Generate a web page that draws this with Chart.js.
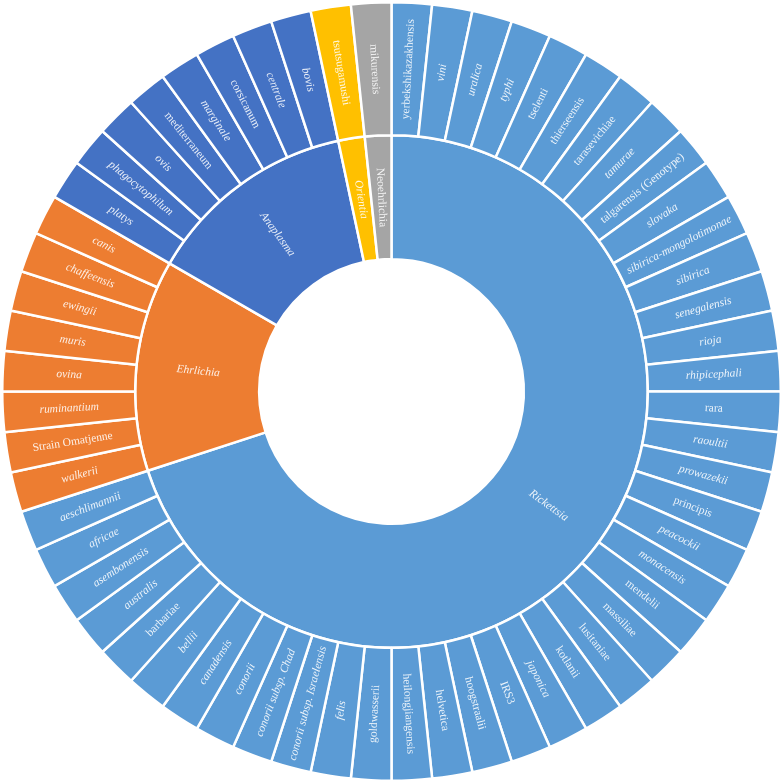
<!DOCTYPE html>
<html>
<head>
<meta charset="utf-8">
<script src="https://cdn.jsdelivr.net/npm/chart.js@4"></script>
<style>
  html, body { margin: 0; padding: 0; background: #ffffff; }
  #wrap { width: 783px; height: 783px; }
</style>
</head>
<body>
<div id="wrap"><canvas id="sunburst-chart"></canvas></div>
<script>
// inner ring
const genera = ['Rickettsia', 'Ehrlichia', 'Anaplasma', 'Orientia', 'Neoehrlichia'];
const genusValues = [42, 8, 8, 1, 1];

// outer ring, one value per species
const rickettsia = ['yerbekshikazakhensis', 'vini', 'uralica', 'typhi', 'tselenti', 'thierseensis',
  'tarasevichiae', 'tamurae', 'talgarensis (Genotype)', 'slovaka', 'sibirica-mongolotimonae',
  'sibirica', 'senegalensis', 'rioja', 'rhipicephali', 'rara', 'raoultii', 'prowazekii',
  'principis', 'peacockii', 'monacensis', 'mendelii', 'massiliae', 'lusitaniae', 'kotlanii',
  'japonica', 'IRS3', 'hoogstraalii', 'helvetica', 'heilongjiangensis', 'goldwasserii', 'felis',
  'conorii subsp. Israelensis', 'conorii subsp. Chad', 'conorii', 'canadensis', 'bellii',
  'barbariae', 'australis', 'asembonensis', 'africae', 'aeschlimannii'];
const ehrlichia = ['walkerii', 'Strain Omatjenne', 'ruminantium', 'ovina', 'muris', 'ewingii',
  'chaffeensis', 'canis'];
const anaplasma = ['platys', 'phagocytophilum', 'ovis', 'mediterraneum', 'marginale',
  'corsicanum', 'centrale', 'bovis'];
const orientia = ['tsutsugamushi'];
const neoehrlichia = ['mikurensis'];

const rickettsiaValues = [1, 1, 1, 1, 1, 1, 1, 1, 1, 1, 1, 1, 1, 1, 1, 1, 1, 1, 1, 1, 1,
  1, 1, 1, 1, 1, 1, 1, 1, 1, 1, 1, 1, 1, 1, 1, 1, 1, 1, 1, 1, 1];
const ehrlichiaValues = [1, 1, 1, 1, 1, 1, 1, 1];
const anaplasmaValues = [1, 1, 1, 1, 1, 1, 1, 1];
const orientiaValues = [1];
const neoehrlichiaValues = [1];

const genusColors = ['#5B9BD5', '#ED7D31', '#4472C4', '#FFC000', '#A5A5A5'];

// labels that are printed upright in the original, the rest are italic
const uprightLabels = ['yerbekshikazakhensis', 'tselenti', 'thierseensis', 'tarasevichiae',
  'talgarensis (Genotype)', 'rara', 'principis', 'mendelii', 'kotlanii', 'IRS3',
  'hoogstraalii', 'helvetica', 'heilongjiangensis', 'goldwasserii', 'barbariae',
  'Strain Omatjenne', 'mediterraneum', 'corsicanum', 'tsutsugamushi', 'mikurensis',
  'Neoehrlichia', 'lusitaniae', 'massiliae'];

const speciesGroups = [rickettsia, ehrlichia, anaplasma, orientia, neoehrlichia];
const speciesValueGroups = [rickettsiaValues, ehrlichiaValues, anaplasmaValues, orientiaValues, neoehrlichiaValues];

const species = [].concat(...speciesGroups);
const speciesValues = [].concat(...speciesValueGroups);
const speciesColors = [];
speciesGroups.forEach((group, i) => {
  group.forEach(() => speciesColors.push(genusColors[i]));
});

// writes each name along the radius of its slice
const radialLabels = {
  id: 'radialLabels',
  afterDatasetsDraw(chart) {
    const ctx = chart.ctx;
    chart.data.datasets.forEach((dataset, d) => {
      const meta = chart.getDatasetMeta(d);
      meta.data.forEach((arc, i) => {
        const p = arc.getProps(['x', 'y', 'startAngle', 'endAngle', 'innerRadius', 'outerRadius']);
        const a = (p.startAngle + p.endAngle) / 2;
        const r = (p.innerRadius + p.outerRadius) / 2;
        const text = dataset.names[i];
        let rot = a;
        if (Math.cos(a) < -0.001) rot = a + Math.PI;
        ctx.save();
        ctx.translate(p.x + r * Math.cos(a), p.y + r * Math.sin(a));
        ctx.rotate(rot);
        const style = uprightLabels.includes(text) ? '' : 'italic ';
        ctx.font = style + '11.5px "Liberation Serif", "DejaVu Serif", serif';
        ctx.fillStyle = 'rgba(255,255,255,0.88)';
        ctx.textAlign = 'center';
        ctx.textBaseline = 'middle';
        ctx.fillText(text, 0, 0);
        ctx.restore();
      });
    });
  }
};

const ctx = document.getElementById('sunburst-chart');

const myChart = new Chart(ctx, {
  type: 'doughnut',
  data: {
    labels: species,
    datasets: [
      {
        names: species,
        data: speciesValues,
        backgroundColor: speciesColors,
        borderColor: '#ffffff',
        borderWidth: 2.5,
        weight: 133
      },
      {
        names: genera,
        data: genusValues,
        backgroundColor: genusColors,
        borderColor: '#ffffff',
        borderWidth: 2.5,
        weight: 124
      }
    ]
  },
  options: {
    responsive: true,
    maintainAspectRatio: false,
    animation: false,
    cutout: '34%',
    layout: { padding: 1 },
    plugins: {
      legend: { display: false },
      tooltip: { enabled: false }
    }
  },
  plugins: [radialLabels]
});
</script>
</body>
</html>
